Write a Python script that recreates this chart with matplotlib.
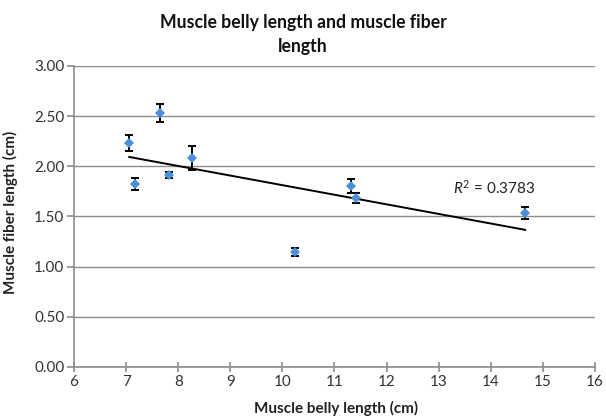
import numpy as np
import matplotlib
matplotlib.use("Agg")
import matplotlib.pyplot as plt

plt.rcParams["font.family"] = ["Lato", "DejaVu Sans"]
plt.rcParams["mathtext.fontset"] = "custom"
plt.rcParams["mathtext.it"] = "Lato:italic"
plt.rcParams["mathtext.rm"] = "Lato"

# data
belly_length = [7.06, 7.18, 7.65, 7.83, 8.26, 10.24, 11.32, 11.41, 14.66]
fiber_length = [2.23, 1.82, 2.53, 1.91, 2.08, 1.15, 1.80, 1.68, 1.53]
fiber_err = [0.08, 0.06, 0.09, 0.03, 0.12, 0.04, 0.07, 0.05, 0.06]
r_squared = 0.3783

x_ticks = list(range(6, 17))
y_ticks = [0.0, 0.5, 1.0, 1.5, 2.0, 2.5, 3.0]

grid_col = "#8c8c8c"
text_col = "#333333"

fig = plt.figure(figsize=(6.06, 4.16), dpi=100)
ax = fig.add_axes([0.1221, 0.1178, 0.8597, 0.7236])

ax.errorbar(belly_length, fiber_length, yerr=fiber_err, fmt="none",
            ecolor="black", elinewidth=1.4, capsize=3, capthick=1.4, zorder=3)
ax.plot(belly_length, fiber_length, "D", color="#4a8fd8", markersize=5.5,
        markeredgewidth=0, zorder=4)

# linear trend line
slope, intercept = np.polyfit(belly_length, fiber_length, 1)
tx = np.array([min(belly_length), max(belly_length)])
ax.plot(tx, slope * tx + intercept, color="black", linewidth=1.4, zorder=2)
ax.text(13.27, 1.79, r"$R^2$ = %.4f" % r_squared, fontsize=11,
        color="#222222", va="center", ha="left")

ax.set_xlim(6, 16)
ax.set_ylim(0, 3)
ax.set_xticks(x_ticks)
ax.set_yticks(y_ticks)
ax.set_yticklabels(["%.2f" % v for v in y_ticks])
ax.yaxis.grid(True, color=grid_col, linewidth=1.0)
ax.set_axisbelow(True)

for side in ["top", "right"]:
    ax.spines[side].set_visible(False)
for side in ["left", "bottom"]:
    ax.spines[side].set_color(grid_col)
    ax.spines[side].set_linewidth(1.2)

ax.tick_params(axis="x", direction="inout", length=7, color=grid_col,
               width=1.2, labelsize=11, pad=2, labelcolor=text_col)
ax.tick_params(axis="y", direction="out", length=5, color=grid_col,
               width=1.2, labelsize=11, pad=2, labelcolor=text_col)

ax.set_xlabel("Muscle belly length (cm)", fontsize=11, fontweight="bold",
              color="#222222")
ax.xaxis.set_label_coords(0.5, -0.045, transform=fig.transFigure)
ax.xaxis.label.set_verticalalignment("center")
ax.set_ylabel("Muscle fiber length (cm)", fontsize=11, fontweight="bold",
              color="#222222")
ax.yaxis.set_label_coords(0.018, 0.49, transform=fig.transFigure)
ax.yaxis.label.set_verticalalignment("center")
ax.xaxis.set_label_coords(0.555, 0.019, transform=fig.transFigure)

fig.text(0.5, 0.917, "Muscle belly length and muscle fiber\nlength",
         fontsize=12.7, fontweight="bold", ha="center", va="center",
         linespacing=1.45, color="#111111")

fig.savefig("out.png", dpi=100)
